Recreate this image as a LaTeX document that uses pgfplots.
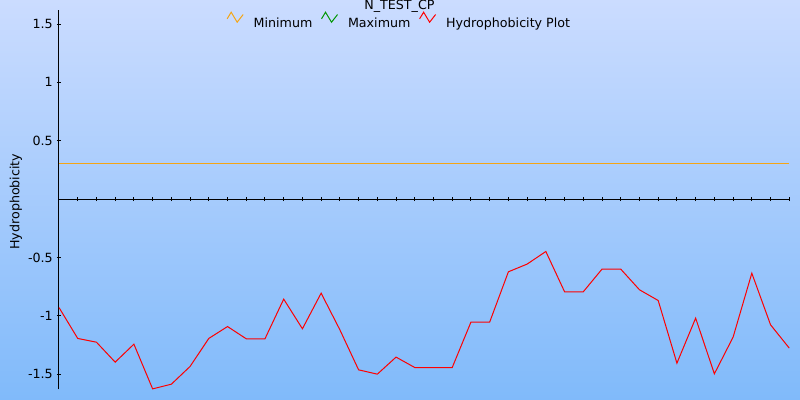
\documentclass[border=0pt]{standalone}
\usepackage{fontspec}
\setmainfont{DejaVu Sans}
\usepackage{pgfplots}
\pgfplotsset{compat=1.18}
\definecolor{bgtop}{RGB}{203,220,255}
\definecolor{bgbot}{RGB}{128,186,250}
\definecolor{minc}{RGB}{245,165,20}
\definecolor{maxc}{RGB}{0,150,0}
\begin{document}
\begin{tikzpicture}[font=\fontsize{9.5pt}{11pt}\selectfont]
\fill[top color=bgtop, bottom color=bgbot] (0pt,0pt) rectangle (600pt,300pt);
\begin{axis}[
  at={(44.25pt,8.0pt)}, anchor=south west,
  scale only axis, width=547.7pt, height=284.5pt,
  xmin=0, xmax=39, ymin=-1.63, ymax=1.62,
  axis x line=middle, axis y line=left,
  axis line style={black, line width=0.75pt, -},
  xtick={1,...,39}, xticklabels={},
  ytick={-1.5,-1,-0.5,0.5,1,1.5},
  yticklabels={-1.5,-1,-0.5,0.5,1,1.5},
  tick align=center, major tick length=3pt,
  tick style={black, line width=0.75pt},
  yticklabel style={anchor=east, inner sep=0pt, xshift=-3pt, font=\fontsize{9.5pt}{11pt}\selectfont},
  ylabel={Hydrophobicity},
  ylabel style={at={(rel axis cs:0,0.4946)}, anchor=base, yshift=29.8pt, inner sep=0pt, font=\fontsize{9.5pt}{11pt}\selectfont},
  title={N\_TEST\_CP},
  every axis title shift=0pt,
  title style={at={(rel axis cs:0.4662,1.0026)}, anchor=base, inner sep=0pt, font=\fontsize{9.5pt}{11pt}\selectfont},
  clip=false,
  legend image code/.code={\draw[#1] (0pt,3.3pt) -- (3pt,8.25pt) -- (7.5pt,0.75pt) -- (12pt,6.5pt);},
  legend style={at={(0.2296,0.9955)}, anchor=north west, draw=none, fill=none,
    inner sep=0pt, outer sep=0pt, legend columns=-1,
    font=\fontsize{9.5pt}{11pt}\selectfont,
    nodes={inner sep=0pt},
    /tikz/every odd column/.append style={column sep=7.5pt},
    /tikz/every even column/.append style={column sep=6.5pt}},
  legend cell align=left,
]
\addplot[minc, line width=0.75pt] coordinates {(0,0.308) (39,0.308)};
\addlegendentry{Minimum}
\addlegendimage{maxc, line width=0.75pt}
\addlegendentry{Maximum}
\addplot[red, line width=0.75pt] table {
x y
0 -0.929
1 -1.194
2 -1.226
3 -1.397
4 -1.243
5 -1.626
6 -1.586
7 -1.434
8 -1.194
9 -1.092
10 -1.197
11 -1.197
12 -0.857
13 -1.111
14 -0.806
15 -1.12
16 -1.463
17 -1.5
18 -1.354
19 -1.443
20 -1.443
21 -1.443
22 -1.054
23 -1.054
24 -0.623
25 -0.557
26 -0.449
27 -0.794
28 -0.794
29 -0.6
30 -0.6
31 -0.777
32 -0.869
33 -1.406
34 -1.02
35 -1.497
36 -1.183
37 -0.635
38 -1.077
39 -1.277
};
\addlegendentry{Hydrophobicity Plot}
\end{axis}
\pgfresetboundingbox
\path (0pt,0pt) rectangle (600pt,300pt);
\end{tikzpicture}
\end{document}
